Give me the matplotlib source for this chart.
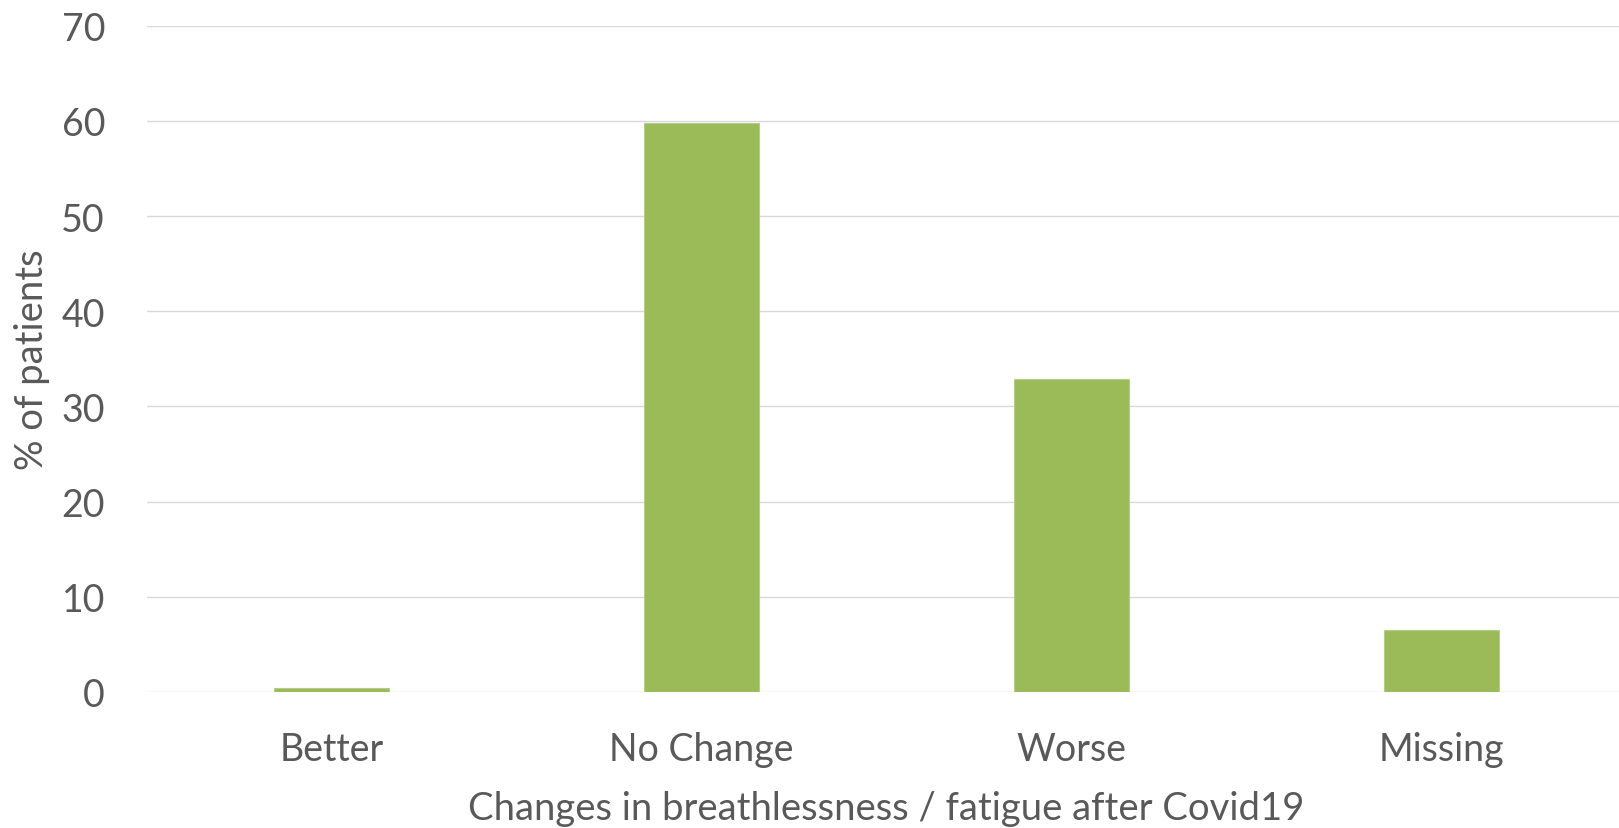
import matplotlib
matplotlib.use("Agg")
import matplotlib.pyplot as plt

categories = ["Better", "No Change", "Worse", "Missing"]
percent_patients = [0.4, 59.8, 32.9, 6.5]
y_ticks = [0, 10, 20, 30, 40, 50, 60, 70]

TEXT = "#595959"
GRID = "#D9D9D9"
BAR = "#9BBB59"

plt.rcParams["font.family"] = ["Lato", "DejaVu Sans"]

fig = plt.figure(figsize=(16.19, 8.29), dpi=100)
ax = fig.add_axes([0.0906, 0.1643, 0.9138, 0.8034])

x = range(len(categories))
ax.bar(x, percent_patients, width=0.31, color=BAR, edgecolor="#B5CD8A",
       linewidth=0.8, zorder=3)

ax.set_xlim(-0.5, len(categories) - 0.5)
ax.set_ylim(0, 70)
ax.set_yticks(y_ticks)
ax.set_xticks(list(x))
ax.set_xticklabels(categories)

ax.yaxis.grid(True, color=GRID, linewidth=1.0, zorder=0)
ax.set_axisbelow(True)
for s in ax.spines.values():
    s.set_visible(False)
ax.tick_params(axis="both", length=0, labelsize=27, colors=TEXT)
ax.tick_params(axis="x", pad=28)
ax.tick_params(axis="y", pad=30)

ax.set_xlabel("Changes in breathlessness / fatigue after Covid19",
              fontsize=27.5, color=TEXT, labelpad=17)
ax.set_ylabel("% of patients", fontsize=27.5, color=TEXT, labelpad=8)

fig.savefig("out.png", dpi=100, facecolor="white")
